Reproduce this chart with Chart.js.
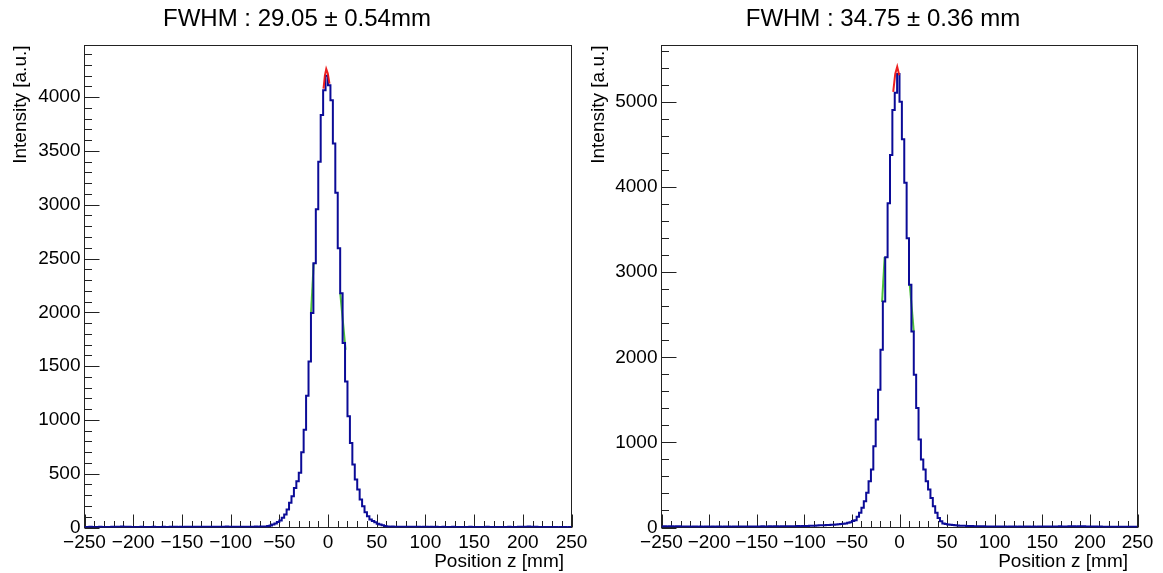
<!DOCTYPE html>
<html>
<head>
<meta charset="utf-8">
<script src="https://cdn.jsdelivr.net/npm/chart.js@4.4.1/dist/chart.umd.min.js"></script>
<style>
  html, body { margin: 0; padding: 0; background: #fff; overflow: hidden; }
  #wrap { position: relative; width: 1163px; height: 573px; }
  #wrap canvas { position: absolute; top: 0; }
</style>
</head>
<body>
<div id="wrap">
  <canvas id="histRight" width="582" height="573" style="left:581px"></canvas>
  <canvas id="histLeft" width="620" height="573" style="left:0px"></canvas>
</div>
<script>
// binning of both histograms: 200 bins of 2.5 mm from -250 to 250
var xMin = -250;
var xMax = 250;
var binWidth = 2.5;
var xTicks = [-250, -200, -150, -100, -50, 0, 50, 100, 150, 200, 250];
var yTicksLeft = [0, 500, 1000, 1500, 2000, 2500, 3000, 3500, 4000];
var yTicksRight = [0, 1000, 2000, 3000, 4000, 5000];

// left histogram, counts per bin
var leftCounts = [
  5, 4, 6, 5, 4, 5, 6, 4, 5, 5,   4, 6, 5, 7, 8, 9, 8, 7, 6, 5,
  5, 4, 5, 6, 5, 4, 5, 5, 6, 5,   4, 5, 6, 5, 5, 6, 7, 6, 5, 6,
  5, 6, 7, 6, 5, 6, 7, 6, 7, 6,   7, 8, 7, 6, 7, 8, 7, 8, 9, 8,
  6, 7, 6, 7, 8, 7, 8, 7, 8, 8,   9, 8, 9, 9, 10, 14, 19, 28, 37, 50,
  65, 90, 121, 167, 229, 290, 368, 430, 508, 699,
  909, 1225, 1543, 1993, 2456, 2958, 3400, 3833, 4065, 4200,
  4110, 3972, 3570, 3112, 2596, 2178, 1714, 1358, 1033, 786,
  585, 445, 353, 260, 198, 142, 105, 74, 60, 49,
  36, 28, 20, 14, 10, 8, 9, 8, 7, 8,   7, 8, 7, 6, 7, 6, 7, 6, 5, 6,
  6, 5, 6, 5, 6, 5, 5, 6, 5, 4,   5, 6, 5, 4, 5, 5, 4, 5, 6, 5,
  4, 5, 5, 4, 5, 6, 5, 4, 5, 5,   4, 5, 4, 5, 6, 5, 4, 5, 6, 7,
  8, 7, 9, 8, 7, 6, 5, 4, 5, 4,   5, 4, 5, 4, 3, 4, 5, 4, 3, 4
];

// right histogram, counts per bin
var rightCounts = [
  12, 14, 13, 15, 14, 13, 15, 14, 12, 13,   11, 12, 10, 11, 12, 10, 11, 10, 12, 11,
  10, 11, 10, 12, 11, 10, 11, 12, 11, 10,   12, 11, 12, 11, 13, 12, 11, 12, 13, 12,
  13, 12, 14, 13, 12, 14, 13, 15, 14, 13,   15, 14, 16, 15, 14, 16, 15, 17, 16, 17,
  17, 18, 20, 21, 22, 24, 25, 26, 27, 28,   30, 31, 33, 35, 37, 40, 43, 48, 55, 63,
  75, 86, 125, 172, 231, 309, 407, 543, 681, 954,
  1268, 1620, 2089, 2656, 3177, 3811, 4378, 4906, 5110, 5330,
  5004, 4562, 4053, 3400, 2852, 2304, 1796, 1405, 1033, 798,
  681, 543, 446, 348, 250, 172, 113, 74, 47, 40,
  35, 31, 28, 26, 24, 22, 21, 20, 19, 18,   17, 16, 15, 15, 14, 14, 13, 13, 12, 12,
  13, 12, 11, 12, 11, 10, 11, 12, 11, 10,   11, 10, 11, 12, 11, 10, 11, 10, 11, 12,
  11, 12, 13, 12, 11, 12, 13, 14, 13, 12,   13, 14, 15, 14, 13, 14, 15, 14, 13, 12,
  11, 12, 11, 10, 11, 10, 9, 10, 9, 10,   9, 10, 9, 8, 9, 10, 9, 8, 9, 8
];

// fit pieces drawn on top (peak fit in red, half max lines in green)
var leftPeakX = [-4.6, -3.2, -1.8, -0.2, 1.5];
var leftPeakY = [4080, 4200, 4262, 4220, 4125];
var leftHalfLoX = [-17.4, -14.7];
var leftHalfLoY = [1993, 2456];
var leftHalfHiX = [12.6, 18.0];
var leftHalfHiY = [2178, 1652];

var rightPeakX = [-6.6, -4.5, -2.4, -0.3];
var rightPeakY = [5120, 5330, 5415, 5315];
var rightHalfLoX = [-18.3, -15.6];
var rightHalfLoY = [2650, 3180];
var rightHalfHiX = [10.8, 15.0];
var rightHalfHiY = [2852, 2304];

var leftTitle = 'FWHM : 29.05 \u00b1 0.54mm';
var rightTitle = 'FWHM : 34.75 \u00b1 0.36 mm';
var yTitle = 'Intensity [a.u.]';
var xTitle = 'Position z [mm]';

var fontFamily = '"Liberation Sans", Arial, Helvetica, sans-serif';

var histPoints = function(counts){
    var pts = [];
    for (var i = 0; i < counts.length; i++) {
        pts.push({x: xMin + i*binWidth, y: counts[i]});
    }
    pts.push({x: xMax, y: counts[counts.length-1]}); // close last bin
    return pts;
}

var linePoints = function(xs, ys){
    var pts = [];
    for (var i = 0; i < xs.length; i++) {
        pts.push({x: xs[i], y: ys[i]});
    }
    return pts;
}

var minusSign = function(v){
    return v < 0 ? '\u2212' + Math.abs(v) : '' + v;
}

var toTicks = function(list){
    return list.map(function(v){ return {value: v}; });
}

// ROOT like frame: box, inner ticks and the text around it
var rootFrame = {
    id: 'rootFrame',
    beforeDatasetsDraw: function(chart, args, opts){
        var ctx = chart.ctx;
        var a = chart.chartArea;
        var xs = chart.scales.x;
        var ys = chart.scales.y;
        ctx.save();
        ctx.strokeStyle = '#222';
        ctx.lineWidth = 1;
        ctx.beginPath();
        for (var v = xs.min; v <= xs.max + 0.001; v += opts.xMinor) {
            var px = Math.round(xs.getPixelForValue(v)) + 0.5;
            var len = Math.abs(v % opts.xMajor) < 0.001 ? 13 : 6.5;
            ctx.moveTo(px, a.bottom);
            ctx.lineTo(px, a.bottom - len);
        }
        for (var w = 0; w <= ys.max; w += opts.yMinor) {
            var py = Math.round(ys.getPixelForValue(w)) + 0.5;
            var l2 = (w % opts.yMajor) === 0 ? 15 : 7.5;
            ctx.moveTo(a.left, py);
            ctx.lineTo(a.left + l2, py);
        }
        ctx.stroke();
        ctx.strokeRect(a.left, a.top, a.right - a.left, a.bottom - a.top);

        ctx.fillStyle = '#000';
        ctx.font = '24px ' + fontFamily;
        ctx.textAlign = 'center';
        ctx.textBaseline = 'alphabetic';
        ctx.fillText(opts.title, opts.titleX, 25.5);

        ctx.font = '19px ' + fontFamily;
        ctx.textAlign = 'right';
        ctx.fillText(xTitle, opts.xTitleRight, 567);

        ctx.translate(opts.yTitleX, a.top);
        ctx.rotate(-Math.PI/2);
        ctx.textAlign = 'right';
        ctx.fillText(yTitle, 0, 0);
        ctx.restore();
    }
};

var makeHist = function(canvasId, counts, fits, setup){
    var datasets = [{
        data: histPoints(counts),
        borderColor: '#0b0b97',
        borderWidth: 2,
        stepped: true,
        pointRadius: 0,
        fill: false,
        order: 1
    }];
    for (var i = 0; i < fits.length; i++) {
        datasets.push({
            data: fits[i].data,
            borderColor: fits[i].color,
            borderWidth: 2,
            pointRadius: 0,
            tension: 0,
            fill: false,
            order: fits[i].order
        });
    }

    const config = {
        type: 'line',
        data: { datasets: datasets },
        options: {
            responsive: false,
            animation: false,
            layout: { padding: { left: 0, right: setup.padRight, top: 45.5, bottom: 0 } },
            plugins: {
                legend: { display: false },
                tooltip: { enabled: false },
                rootFrame: setup.frame
            },
            scales: {
                x: {
                    type: 'linear',
                    min: xMin,
                    max: xMax,
                    afterFit: function(s){
                        s.height = 45.5;
                        s.paddingLeft = 0;
                        s.paddingRight = 0;
                    },
                    afterBuildTicks: function(s){ s.ticks = toTicks(xTicks); },
                    grid: { display: false, drawTicks: false },
                    border: { display: false },
                    ticks: {
                        autoSkip: false,
                        maxRotation: 0,
                        padding: 3.5,
                        color: '#000',
                        font: { family: fontFamily, size: 19 },
                        callback: minusSign
                    }
                },
                y: {
                    type: 'linear',
                    min: 0,
                    max: setup.yMax,
                    afterFit: function(s){
                        s.width = setup.yWidth;
                        s.paddingTop = 0;
                        s.paddingBottom = 0;
                    },
                    afterBuildTicks: function(s){ s.ticks = toTicks(setup.yTicks); },
                    grid: { display: false, drawTicks: false },
                    border: { display: false },
                    ticks: {
                        autoSkip: false,
                        padding: 4,
                        color: '#000',
                        font: { family: fontFamily, size: 19 },
                        callback: function(v){ return '' + v; }
                    }
                }
            }
        },
        plugins: [rootFrame]
    };

    return new Chart(document.getElementById(canvasId), config);
}

makeHist('histLeft', leftCounts, [
    { data: linePoints(leftPeakX, leftPeakY), color: 'rgba(235,20,20,0.95)', order: 0 },
    { data: linePoints(leftHalfLoX, leftHalfLoY), color: '#4cbf3a', order: 2 },
    { data: linePoints(leftHalfHiX, leftHalfHiY), color: '#4cbf3a', order: 2 }
], {
    // canvas is wider than its half so the last x label is not cut
    padRight: 48.5, yWidth: 84.5, yMax: 4480, yTicks: yTicksLeft,
    frame: { xMinor: 10, xMajor: 50, yMinor: 100, yMajor: 500,
             title: leftTitle, titleX: 297, xTitleRight: 564, yTitleX: 25.5 }
});

makeHist('histRight', rightCounts, [
    { data: linePoints(rightPeakX, rightPeakY), color: 'rgba(235,20,20,0.95)', order: 0 },
    { data: linePoints(rightHalfLoX, rightHalfLoY), color: '#4cbf3a', order: 2 },
    { data: linePoints(rightHalfHiX, rightHalfHiY), color: '#4cbf3a', order: 2 }
], {
    padRight: 25.5, yWidth: 80.5, yMax: 5665, yTicks: yTicksRight,
    frame: { xMinor: 10, xMajor: 50, yMinor: 200, yMajor: 1000,
             title: rightTitle, titleX: 302, xTitleRight: 547, yTitleX: 22.5 }
});
</script>
</body>
</html>
